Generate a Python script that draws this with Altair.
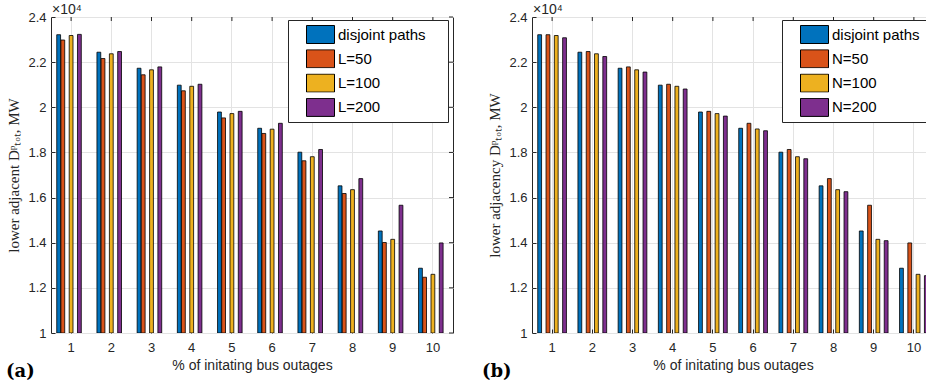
import altair as alt
import pandas as pd

pct = list(range(1, 11))
disjoint = [23215, 22440, 21730, 20980, 19790, 19070, 18010, 16520, 14520, 12870]
L50 = [22980, 22160, 21440, 20730, 19530, 18840, 17630, 16180, 14010, 12470]
L100 = [23180, 22370, 21660, 20930, 19720, 19030, 17810, 16350, 14150, 12600]
L200 = [23230, 22470, 21790, 21020, 19820, 19290, 18130, 16840, 15660, 13990]
N50 = [23215, 22470, 21790, 21020, 19820, 19290, 18130, 16840, 15660, 13990]
N100 = [23180, 22370, 21660, 20930, 19720, 19040, 17810, 16350, 14150, 12600]
N200 = [23080, 22250, 21560, 20810, 19610, 18960, 17720, 16260, 14090, 12540]

names_a = ["disjoint paths", "L=50", "L=100", "L=200"]
names_b = ["disjoint paths", "N=50", "N=100", "N=200"]
colors = ["#0072BD", "#D95319", "#EDB120", "#7E2F8E"]
y_ticks = [10000, 12000, 14000, 16000, 18000, 20000, 22000, 24000]
y_base = 10000
XTITLE = "% of initating bus outages"

DARK = "#262626"
GRID = "#e3e3e3"
SANS = "Liberation Sans"
W, H = 402, 316


def long(names, cols):
    rows = []
    for name, vals in zip(names, cols):
        for p, v in zip(pct, vals):
            rows.append({"pct": p, "series": name, "value": v})
    return pd.DataFrame(rows)


def panel(df, names, ytitle, letter, letter_x, legend_x):
    xscale = alt.Scale(paddingInner=0.286, paddingOuter=0.143)
    yscale = alt.Scale(domain=[10000, 24000], nice=False, zero=False)
    bars = alt.Chart(df).mark_bar(stroke="black", strokeWidth=0.8, clip=True).encode(
        x=alt.X("pct:O", scale=xscale, title=XTITLE,
                axis=alt.Axis(labelAngle=0, grid=True, bandPosition=0.5, tickSize=4,
                              offset=-4, domain=False, labelPadding=8, titlePadding=4)),
        xOffset=alt.XOffset("series:N", sort=names,
                            scale=alt.Scale(paddingInner=0.08, paddingOuter=0)),
        y=alt.Y("value:Q", scale=yscale, title=ytitle,
                axis=alt.Axis(values=y_ticks, grid=True, tickSize=4, offset=-4,
                              domain=False, labelPadding=5,
                              labelExpr="format(datum.value / 10000, '.1~f')",
                              titleFont="Liberation Serif", titleFontSize=15,
                              titlePadding=6)),
        y2=alt.datum(y_base),
        color=alt.Color("series:N", sort=names,
                        scale=alt.Scale(domain=names, range=colors),
                        legend=alt.Legend(title=None, orient="none", legendX=legend_x, legendY=3,
                                          symbolType="M-1,-0.643H1V0.643H-1Z", symbolSize=784,
                                          symbolStrokeColor="black", symbolStrokeWidth=1,
                                          symbolOpacity=1, clipHeight=19, rowPadding=5.3,
                                          symbolOffset=13, labelOffset=3, padding=5,
                                          labelFont=SANS, labelFontSize=15, labelColor="black",
                                          labelExpr="datum.label + '\u00a0\u00a0\u00a0\u00a0\u200b'",
                                          strokeColor=DARK, fillColor="white")),
    )
    top_ticks = alt.Chart(pd.DataFrame({"pct": pct})).mark_rule(
        color=DARK, strokeWidth=1
    ).encode(x=alt.X("pct:O", scale=xscale, title=XTITLE),
             y=alt.value(0), y2=alt.value(4))
    right_ticks = alt.Chart(pd.DataFrame({"value": y_ticks})).mark_rule(
        color=DARK, strokeWidth=1
    ).encode(y=alt.Y("value:Q", scale=yscale, title=ytitle),
             x=alt.value(W - 4), x2=alt.value(W))
    expo = alt.Chart(pd.DataFrame({"t": ["×10⁴"]})).mark_text(
        align="left", baseline="alphabetic", font=SANS, fontSize=14, color=DARK
    ).encode(text="t:N", x=alt.value(1), y=alt.value(-3))
    lab = alt.Chart(pd.DataFrame({"t": [letter]})).mark_text(
        align="left", baseline="middle", font="DejaVu Serif", fontSize=18,
        fontWeight="bold", color="black"
    ).encode(text="t:N", x=alt.value(letter_x), y=alt.value(355))
    return alt.layer(bars, top_ticks, right_ticks, expo, lab).properties(width=W, height=H)


pa = panel(long(names_a, [disjoint, L50, L100, L200]), names_a,
           "lower adjacent Dᵖₜₒₜ, MW", "(a)", -45, 237)
pb = panel(long(names_b, [disjoint, N50, N100, N200]), names_b,
           "lower adjacency Dᵖₜₒₜ, MW", "(b)", -50, 250)

chart = alt.hconcat(pa, pb, spacing=27).resolve_scale(color="independent").properties(
    padding={"left": 5, "top": 2, "right": -17, "bottom": 0}
).configure_view(stroke=DARK, strokeWidth=1).configure_axis(
    labelFont=SANS, labelFontSize=13, labelColor=DARK, titleFont=SANS, titleFontSize=14,
    titleColor=DARK, titleFontWeight="normal", tickColor=DARK, gridColor=GRID, gridWidth=1
)

chart.save("out.html", embed_options={"renderer": "svg", "actions": False})
